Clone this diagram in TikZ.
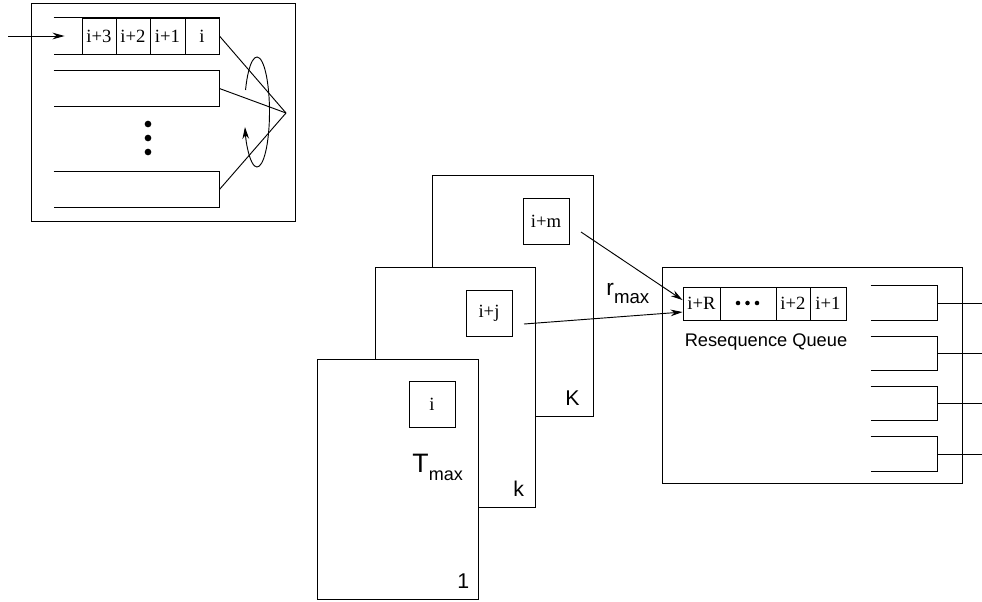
\documentclass[tikz,border=0pt]{standalone}
\usepackage{fontspec}
\setmainfont{Liberation Serif}
\newfontfamily\hvfont{Liberation Sans}
\usetikzlibrary{arrows.meta,calc}

% queue whose left side stays open
\newcommand\openq[1]{\draw (#1.north west) -- (#1.north east) -- (#1.south east) -- (#1.south west);}

\begin{document}
\begin{tikzpicture}[x=0.75pt,y=-0.75pt,line width=0.7pt,
  qfont/.style={font=\fontsize{14}{14}\selectfont},
  sfont/.style={font=\hvfont\fontsize{16}{16}\selectfont},
  cell/.style={draw,rectangle,inner sep=0pt,minimum height=27pt,qfont},
  rcell/.style={draw,rectangle,inner sep=0pt,minimum height=24.75pt,qfont},
  lane/.style={rectangle,inner sep=0pt,minimum width=123.75pt,minimum height=26.25pt},
  outq/.style={rectangle,inner sep=0pt,minimum width=49.5pt,minimum height=25pt},
  card/.style={draw,fill=white,rectangle,inner sep=0pt,minimum width=120.75pt,minimum height=180pt},
  pkt/.style={draw,fill=white,rectangle,inner sep=0pt,minimum size=34.5pt,qfont},
  arr/.style={-{Stealth[length=9pt,width=5pt]}}]

\useasboundingbox (0,0) rectangle (982,601);

% ---------- round-robin dispatcher ----------
\node[draw,rectangle,inner sep=0pt,minimum width=198pt,minimum height=163.5pt] (rr) at (163,112) {};

\node[lane,minimum height=27pt] (q1) at (136.5,36) {};
\openq{q1}
\node[cell,minimum width=25.5pt]  (c3) at (99,36)    {i+3};
\node[cell,minimum width=25.5pt]  (c2) at (133,36)   {i+2};
\node[cell,minimum width=26.25pt] (c1) at (167.5,36) {i+1};
\node[cell,minimum width=25.5pt]  (c0) at (202,36)   {i};

\node[lane] (q2) at (136.5,88.5) {};
\openq{q2}
\node[lane] (q3) at (136.5,189.5) {};
\openq{q3}

\fill (148,124) circle[radius=2.5pt];
\fill (148,138) circle[radius=2.5pt];
\fill (148,152) circle[radius=2.5pt];

\coordinate (in) at (8,36);
\draw[arr] (in) -- ([xshift=8.25pt]q1.west);

\coordinate (hub) at (286,113);
\draw (c0.east) -- (hub);
\draw (q2.east) -- (hub);
\draw (q3.east) -- (hub);

\coordinate (ell) at (257,112);
\draw[arr] ([shift={(156.4:9.375pt and 41.25pt)}]ell)
  arc[start angle=156.4,end angle=-164.2,x radius=9.375pt,y radius=41.25pt];

% ---------- stacked processors ----------
\node[card,minimum height=180.75pt] (cardK) at (512.5,295.5) {};
\node[card,minimum width=120pt] (cardk) at (455,387) {};
\node[card] (card1) at (397.5,479) {};

\node[pkt] (bm) at (546,221)   {i+m};
\node[pkt] (bj) at (489,313)   {i+j};
\node[pkt] (bi) at (432,404.5) {i};

\node[sfont,anchor=base west,inner sep=0pt] (labK) at (565,405) {K};
\node[sfont,anchor=base west,inner sep=0pt] (labk) at (513,496) {k};
\node[sfont,anchor=base west,inner sep=0pt] (lab1) at (457,588) {1};

\node[anchor=base west,inner sep=0pt,font=\hvfont] (tmax) at (412,472)
  {\fontsize{20}{20}\selectfont T\raisebox{-6pt}{\fontsize{13.5}{13.5}\selectfont max}};
\node[anchor=base west,inner sep=0pt,font=\hvfont] (rmax) at (606,295)
  {\fontsize{17}{17}\selectfont r\raisebox{-6pt}{\fontsize{14}{14}\selectfont max}};

% ---------- resequencer ----------
\node[draw,rectangle,inner sep=0pt,minimum width=225pt,minimum height=162pt] (rs) at (812,375) {};

\node[rcell,minimum width=27.75pt] (rR) at (701.5,303.5) {i+R};
\node[rcell,minimum width=42pt]    (rd) at (748,303.5)   {};
\node[rcell,minimum width=25.5pt]  (r2) at (793,303.5)   {i+2};
\node[rcell,minimum width=27pt]    (r1) at (828,303.5)   {i+1};
\fill (738,303) circle[radius=1.7pt];
\fill (747.5,303) circle[radius=1.7pt];
\fill (757,303) circle[radius=1.7pt];

\node[anchor=base,inner sep=0pt,font=\hvfont\fontsize{13.7}{13.7}\selectfont] (rql) at (766,346) {Resequence Queue};

\coordinate (mtail) at (581,232);
\coordinate (jtail) at (524,324);
\draw[arr] (mtail) -- ([yshift=2.6pt]rR.west);
\draw[arr] (jtail) -- ([yshift=-6.4pt]rR.west);

\node[outq] (o1) at (904,303)   {};
\node[outq] (o2) at (904,353.5) {};
\node[outq] (o3) at (904,403.5) {};
\node[outq] (o4) at (904,454)   {};
\openq{o1}
\openq{o2}
\openq{o3}
\openq{o4}
\coordinate (e1) at (982,303);
\coordinate (e2) at (982,353.5);
\coordinate (e3) at (982,403.5);
\coordinate (e4) at (982,454);
\draw (o1.east) -- (e1);
\draw (o2.east) -- (e2);
\draw (o3.east) -- (e3);
\draw (o4.east) -- (e4);
\end{tikzpicture}
\end{document}
